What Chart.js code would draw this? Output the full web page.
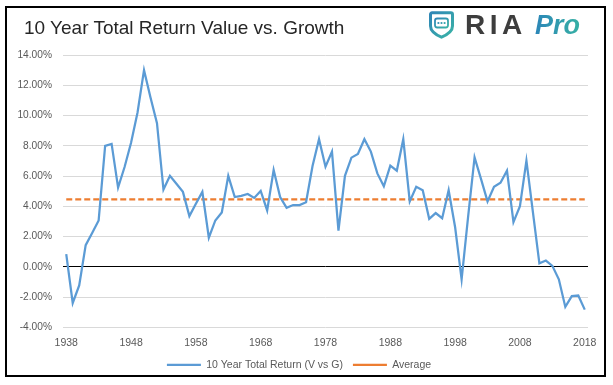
<!DOCTYPE html>
<html>
<head>
<meta charset="utf-8">
<script src="https://cdn.jsdelivr.net/npm/chart.js@4.4.1/dist/chart.umd.min.js"></script>
<style>
  html, body { margin: 0; padding: 0; background: #fff; }
  #wrap { position: relative; width: 613px; height: 385px; background: #fff; overflow: hidden; }
  #chart { position: absolute; left: 0; top: 0; }
  #frame { position: absolute; left: 5px; top: 6px; width: 601px; height: 371px; box-sizing: border-box; border: 2px solid #000; pointer-events: none; }
  #title { position: absolute; left: 24px; top: 18px; font: 19px/19px "Liberation Sans", Arial, sans-serif; color: #262626; white-space: nowrap; }
  #shield { position: absolute; left: 428px; top: 11px; }
  .logo { position: absolute; font-family: "Liberation Sans", Arial, sans-serif; font-weight: bold; white-space: nowrap; }
  #ria { left: 465px; top: 10.7px; font-size: 28px; line-height: 28px; color: #3d3d3d; letter-spacing: 4.5px; }
  #pro { left: 535px; top: 11.5px; font-size: 27px; line-height: 27px; font-style: italic; color: #2f9ab2;
         background: linear-gradient(90deg, #2c86b8, #36b0a4); -webkit-background-clip: text; background-clip: text; -webkit-text-fill-color: transparent; }
</style>
</head>
<body>
<div id="wrap">
  <canvas id="chart" width="613" height="385"></canvas>
  <div id="frame"></div>
  <div id="title">10 Year Total Return Value vs. Growth</div>
  <svg id="shield" width="27" height="28" viewBox="0 0 27 28">
    <defs>
      <linearGradient id="sg" x1="0" y1="0" x2="1" y2="1">
        <stop offset="0" stop-color="#2f86b6"/>
        <stop offset="1" stop-color="#3ab3a6"/>
      </linearGradient>
    </defs>
    <path d="M2.5,3.5 Q2.5,1.8 4.2,1.8 L22.8,1.8 Q24.5,1.8 24.5,3.5 L24.5,15 Q24.5,21.5 13.5,26.2 Q2.5,21.5 2.5,15 Z" fill="none" stroke="url(#sg)" stroke-width="3" stroke-linejoin="round"/>
    <rect x="7" y="7.5" width="13" height="9" rx="2.2" fill="none" stroke="url(#sg)" stroke-width="1.8"/>
    <circle cx="10.4" cy="12" r="1.1" fill="#2f8fb3"/>
    <circle cx="13.5" cy="12" r="1.1" fill="#2f9ab0"/>
    <circle cx="16.6" cy="12" r="1.1" fill="#33a5ab"/>
  </svg>
  <div id="ria" class="logo">RIA</div>
  <div id="pro" class="logo">Pro</div>
</div>
<script>
// categories: one per year
const years = [
  1938, 1939, 1940, 1941, 1942, 1943, 1944, 1945, 1946, 1947,
  1948, 1949, 1950, 1951, 1952, 1953, 1954, 1955, 1956, 1957,
  1958, 1959, 1960, 1961, 1962, 1963, 1964, 1965, 1966, 1967,
  1968, 1969, 1970, 1971, 1972, 1973, 1974, 1975, 1976, 1977,
  1978, 1979, 1980, 1981, 1982, 1983, 1984, 1985, 1986, 1987,
  1988, 1989, 1990, 1991, 1992, 1993, 1994, 1995, 1996, 1997,
  1998, 1999, 2000, 2001, 2002, 2003, 2004, 2005, 2006, 2007,
  2008, 2009, 2010, 2011, 2012, 2013, 2014, 2015, 2016, 2017,
  2018
];

// 10 year total return, value vs growth (%)
const totalReturn = [
  0.85, -2.38, -1.22, 1.44, 2.24, 3.07, 8.0, 8.13, 5.24, 6.6,
  8.2, 10.2, 13.0, 11.2, 9.5, 5.11, 6.02, 5.5, 4.96, 3.36,
  4.18, 4.96, 1.93, 3.07, 3.6, 6.02, 4.62, 4.7, 4.82, 4.56,
  5.02, 3.73, 6.4, 4.62, 3.91, 4.09, 4.09, 4.27, 6.67, 8.44,
  6.62, 7.62, 2.4, 6.02, 7.22, 7.47, 8.44, 7.62, 6.18, 5.33,
  6.69, 6.36, 8.44, 4.33, 5.29, 5.07, 3.18, 3.56, 3.22, 5.07,
  2.62, -0.82, 3.3, 7.24, 5.8, 4.33, 5.29, 5.56, 6.36, 2.96,
  4.02, 7.02, 3.62, 0.24, 0.42, 0.07, -0.82, -2.64, -1.93, -1.89,
  -2.82
];

const averageValue = 4.47;

// y axis ticks
const yTicks = [-4, -2, 0, 2, 4, 6, 8, 10, 12, 14];
// years that get an x label
const xLabelYears = [1938, 1948, 1958, 1968, 1978, 1988, 1998, 2008, 2018];

const fontFamily = '"Liberation Sans", Arial, sans-serif';
const labelColor = '#595959';

new Chart(document.getElementById('chart'), {
  type: 'line',
  data: {
    labels: years,
    datasets: [
      {
        label: '10 Year Total Return (V vs G)',
        data: totalReturn,
        borderColor: '#5b9bd5',
        backgroundColor: '#5b9bd5',
        borderWidth: 2.25,
        pointRadius: 0,
        tension: 0,
        fill: false
      },
      {
        label: 'Average',
        data: years.map(() => averageValue),
        borderColor: '#ed7d31',
        backgroundColor: '#ed7d31',
        borderWidth: 2.25,
        borderDash: [6, 3],
        pointRadius: 0,
        fill: false
      }
    ]
  },
  options: {
    responsive: false,
    animation: false,
    events: [],
    layout: { padding: { left: 10, right: 25, top: 55, bottom: 5 } },
    scales: {
      x: {
        type: 'category',
        offset: true,
        grid: { display: false, drawTicks: false },
        border: { display: false },
        afterFit: (scale) => { scale.height = 22; },
        ticks: {
          autoSkip: false,
          maxRotation: 0,
          padding: 9,
          color: labelColor,
          font: { family: fontFamily, size: 10.5 },
          callback: function (value, index) {
            const yr = years[index];
            return xLabelYears.includes(yr) ? String(yr) : '';
          }
        }
      },
      y: {
        min: yTicks[0],
        max: yTicks[yTicks.length - 1],
        afterBuildTicks: (scale) => { scale.ticks = yTicks.map(v => ({ value: v })); },
        afterFit: (scale) => { scale.width = 53; },
        grid: {
          drawTicks: false,
          lineWidth: 1,
          color: (ctx) => (ctx.tick && ctx.tick.value === 0 ? '#000000' : '#d9d9d9')
        },
        border: { display: false },
        ticks: {
          padding: 11,
          color: labelColor,
          font: { family: fontFamily, size: 10.2 },
          callback: (v) => v.toFixed(2) + '%'
        }
      }
    },
    plugins: {
      tooltip: { enabled: false },
      title: { display: false },
      legend: {
        position: 'bottom',
        labels: {
          usePointStyle: true,
          pointStyle: 'line',
          pointStyleWidth: 34,
          padding: 10,
          color: labelColor,
          font: { family: fontFamily, size: 10.5 }
        }
      }
    }
  }
});
</script>
</body>
</html>
